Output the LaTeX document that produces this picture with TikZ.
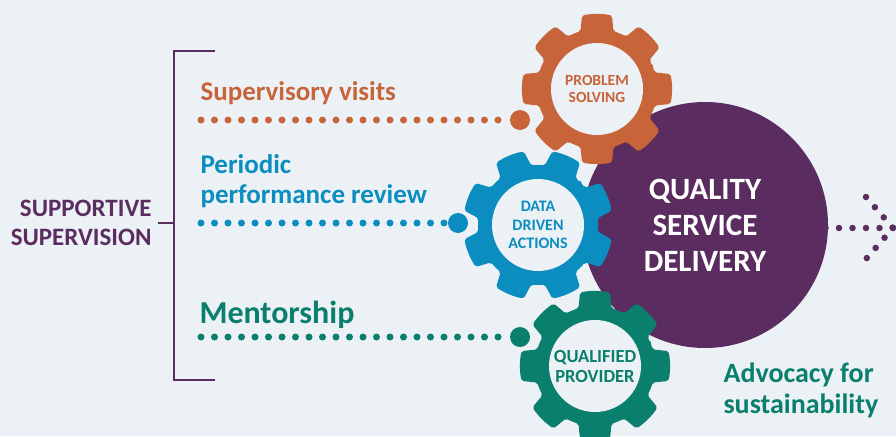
\documentclass[tikz,border=0pt]{standalone}
\usepackage{fontspec}
\setmainfont{Carlito}
\usepackage{tikz}
\usetikzlibrary{positioning,backgrounds}
\definecolor{bgcol}{HTML}{ECF1F5}
\definecolor{ssorange}{HTML}{C8643A}
\definecolor{ssblue}{HTML}{0B8DC0}
\definecolor{ssgreen}{HTML}{0A7F6D}
\definecolor{sspurple}{HTML}{5B2C5F}

\begin{document}
\begin{tikzpicture}
	[x=1pt, y=-1pt, font=\bfseries,
	% STYLES
	% The gear pic draws a cog with eight teeth
	pics/gear/.style={code={
		\fill[#1, rounded corners=2pt] (-22.5:60)
		\foreach \a in {0,45,...,315} {
			arc[start angle=\a-22.5, end angle=\a-16, radius=60] -- (\a-11.5:75)
			arc[start angle=\a-11.5, end angle=\a+11.5, radius=75] -- (\a+16:60)
			arc[start angle=\a+16, end angle=\a+22.5, radius=60]} -- cycle;
	}},
	% The hole style is used for the inside of each gear
	hole/.style={circle, fill=bgcol, inner sep=0pt, minimum size=92pt, align=center, text=#1},
	% The bigdot style is used for the end of each dotted line
	bigdot/.style={circle, fill=#1, inner sep=0pt, minimum size=20pt},
	% The dotline style is used to draw the dotted links
	dotline/.style={#1, line width=7pt, line cap=round, dash pattern=on 0pt off 13.5pt},
	% The activity style is used for the names on the left
	activity/.style={anchor=base west, align=left, text=#1, font=\fontsize{27}{30}\selectfont\bfseries},
	bracket/.style={sspurple, line width=1.6pt}]
	% Background
	\fill[bgcol] (0,0) rectangle (896,436);
	\useasboundingbox (0,0) rectangle (896,436);
	% Draw quality circle and gears
	\node [circle, fill=sspurple, minimum size=246pt, inner sep=0pt, align=center, text=white,
		font=\fontsize{31}{36}\selectfont\bfseries] (quality) at (705,225) {QUALITY\\SERVICE\\DELIVERY};
	\pic [rotate=22.5] at (538,225) {gear=ssblue};
	\pic at (597,89) {gear=ssorange};
	\pic at (595,366) {gear=ssgreen};
	\node [hole=ssorange, font=\fontsize{15.5}{17}\selectfont\bfseries] (problem) at (597,89) {PROBLEM\\SOLVING};
	\node [hole=ssblue, font=\fontsize{16}{18.5}\selectfont\bfseries] (data) at (538,225) {DATA\\DRIVEN\\ACTIONS};
	\node [hole=ssgreen, font=\fontsize{18.5}{20}\selectfont\bfseries] (qualified) at (595,366) {QUALIFIED\\PROVIDER};
	%%%%%%%%%%%%%%%
	% Activities (base is the last line)
	\node [activity=ssorange] (visits) at (197,100) {Supervisory visits};
	\node [activity=ssblue] (periodic) at (197,203) {Periodic\\performance review};
	\node [activity=ssgreen, font=\fontsize{32}{32}\selectfont\bfseries] (mentorship) at (196,323) {Mentorship};
	\node [anchor=base east, align=right, text=sspurple, font=\fontsize{25}{29}\selectfont\bfseries] (supportive) at (155,245) {SUPPORTIVE\\SUPERVISION};
	\node [anchor=base west, align=left, text=ssgreen, font=\fontsize{28}{31}\selectfont\bfseries] (advocacy) at (720,413) {Advocacy for\\sustainability};
	% Big dots
	\node [bigdot=ssorange] (visits-dot) at (520,120) {};
	\node [bigdot=ssblue] (periodic-dot) at (458,223) {};
	\node [bigdot=ssgreen] (mentorship-dot) at (520,337) {};
	%%%%%%%%%%%%%%%
	% Coordinates
	\coordinate (visits-start) at (201,120);
	\coordinate (periodic-start) at (201,223);
	\coordinate (mentorship-start) at (201,337);
	\coordinate (bracket-top) at (215,51);
	\coordinate (bracket-bottom) at (215,380);
	\coordinate (bracket-mid) at (174,223);
	\coordinate (bracket-stub) at (158,223);
	\coordinate (arrow-tip) at (893,228);
	\coordinate (arrow-up) at (866,197);
	\coordinate (arrow-down) at (866,259);
	% Draw the bracket
	\draw [bracket] (bracket-top) -| (bracket-mid) |- (bracket-bottom);
	\draw [bracket] (bracket-stub) -- (bracket-mid);
	% Draw the dotted links
	\path [dotline=ssorange] (visits-start) edge (visits-dot.west);
	\path [dotline=ssblue] (periodic-start) edge (periodic-dot.west);
	\path [dotline=ssgreen] (mentorship-start) edge (mentorship-dot.west);
	\draw [dotline=sspurple, line width=6.5pt] (arrow-tip) -- ([xshift=-3pt]quality.east |- arrow-tip);
	\draw [dotline=sspurple, line width=6.5pt] (arrow-up) -- (arrow-tip) -- (arrow-down);
\end{tikzpicture}
\end{document}
